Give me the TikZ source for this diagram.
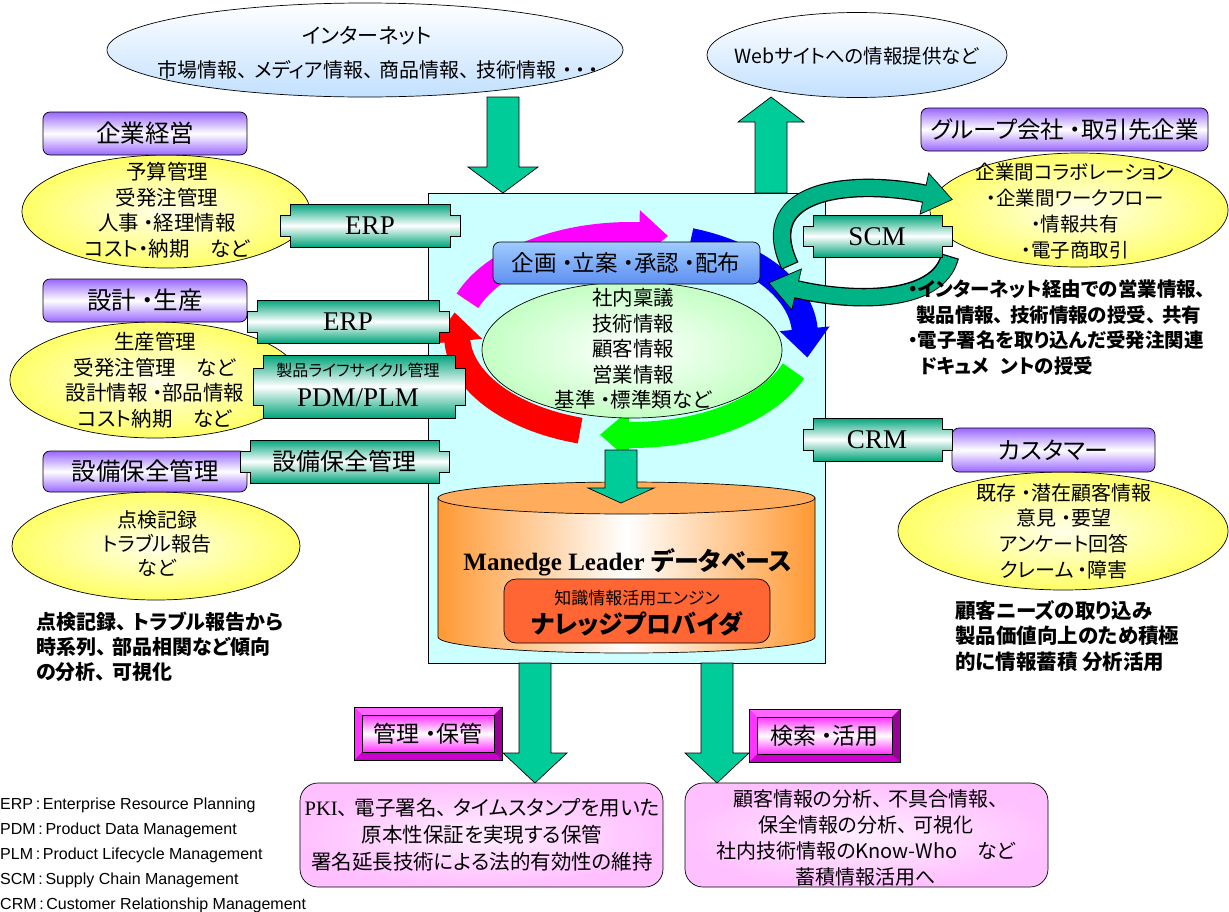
\documentclass[tikz,border=0pt]{standalone}
\usepackage{fontspec}
\setmainfont{Noto Sans CJK JP}[RawFeature=+palt]
\newfontfamily\tms{Liberation Serif}
\newfontfamily\arl{Liberation Sans}
\usetikzlibrary{decorations.markings}
\newcommand\fz[2]{\fontsize{#1pt}{#2pt}\selectfont}
\newcommand\tc{、\hspace{0.32em}}
\definecolor{cyanbg}{HTML}{CCFFFF}
\definecolor{agreen}{HTML}{00CC99}
\definecolor{tabg}{HTML}{00A47A}
\definecolor{purp}{HTML}{9966FF}
\definecolor{yout}{HTML}{FFFF66}
\definecolor{yin}{HTML}{FFFFEA}
\definecolor{gout}{HTML}{C4FFC4}
\definecolor{bluetop}{HTML}{9FCBFF}
\definecolor{bluebot}{HTML}{5E8FF0}
\definecolor{netblue}{HTML}{C2E0FF}
\definecolor{orng}{HTML}{FF9933}
\definecolor{orngtop}{HTML}{FFAD5C}
\definecolor{redor}{HTML}{FF6633}
\definecolor{pinkout}{HTML}{FFC0FF}
\definecolor{pinkin}{HTML}{FFEEFF}
\definecolor{magA}{HTML}{FF66FF}
\definecolor{magB}{HTML}{FF33FF}
\definecolor{magC}{HTML}{CC00CC}
\definecolor{magD}{HTML}{990099}
\definecolor{scmg}{HTML}{00B386}
\definecolor{cmag}{HTML}{FF00FF}
\definecolor{cblue}{HTML}{0000FF}
\definecolor{cgreen}{HTML}{00FF00}
\definecolor{cred}{HTML}{FF0000}
\tikzset{
  jtxt/.style={inner sep=0pt, align=center},
  outl/.style={draw=black, line width=0.7pt},
}
% block arrow: cx, ytop, ybase, ytip, half shaft, half head
\newcommand\bdown[6]{\filldraw[fill=agreen, outl] ({#1-#5},#2) -- ({#1+#5},#2) -- ({#1+#5},#3) -- ({#1+#6},#3) -- (#1,#4) -- ({#1-#6},#3) -- ({#1-#5},#3) -- cycle;}
% green tab: xL, yT, xR, yB, d
\newcommand\gtab[5]{\shadedraw[top color=tabg, bottom color=tabg, middle color=white, outl]
 (#1,#2) -- (#3,#2) -- (#3,{#2+#5}) -- ({#3+10},{#2+#5}) -- ({#3+10},{#4-#5}) -- (#3,{#4-#5}) -- (#3,#4) -- (#1,#4) -- (#1,{#4-#5}) -- ({#1-10},{#4-#5}) -- ({#1-10},{#2+#5}) -- (#1,{#2+#5}) -- cycle;}
% purple label
\newcommand\plabel[4]{\shadedraw[rounded corners=7pt, top color=purp, bottom color=purp, middle color=white, outl] (#1,#2) rectangle (#3,#4);}
% bevel box
\newcommand\bevbox[4]{%
 \fill[magC] (#1,#2) rectangle (#3,#4);
 \fill[magA] (#1,#2) -- (#3,#2) -- ({#3-8},{#2+8}) -- ({#1+8},{#2+8}) -- cycle;
 \fill[magB] (#1,#2) -- ({#1+8},{#2+8}) -- ({#1+8},{#4-8}) -- (#1,#4) -- cycle;
 \fill[magD] (#3,#2) -- (#3,#4) -- ({#3-8},{#4-8}) -- ({#3-8},{#2+8}) -- cycle;
 \shade[top color=magB, bottom color=magB, middle color=white] ({#1+8},{#2+8}) rectangle ({#3-8},{#4-8});
 \draw[black, line width=0.4pt] ({#1+8},{#2+8}) rectangle ({#3-8},{#4-8});
 \draw[outl] (#1,#2) rectangle (#3,#4);}
% cycle arc
\newcommand\cyc[3]{\draw[#1, line width=26pt, postaction=decorate, decoration={markings, mark=at position 0.999 with {\fill[#1] (-0.8pt,-25pt) -- (28pt,0pt) -- (-0.8pt,25pt) -- cycle;}}] ({631+174*cos(#2)},{335+100*sin(#2)}) arc[start angle=#2, end angle=#3, x radius=174, y radius=100];}
% scm arrow
\newcommand\scmarrow[1]{%
 \draw[black, line width=18.5pt, postaction=decorate, decoration={markings, mark=at position 0.999 with {\filldraw[fill=scmg, draw=black, line width=0.7pt] (-1.5pt,-21pt) -- (27pt,0pt) -- (-1.5pt,21pt) -- cycle;}}] #1;
 \draw[scmg, line width=16pt, shorten <=1.2pt] #1;}
\newcommand\yell[3]{\shadedraw[inner color=yin, outer color=yout, outl] (#1) ellipse [x radius=#2, y radius=#3];}
\begin{document}
\begin{tikzpicture}[x=1pt,y=-1pt]
\useasboundingbox (0,0) rectangle (1229,911);
% top ellipses
\shadedraw[top color=white, bottom color=netblue, outl] (365,50) ellipse [x radius=258, y radius=47];
\node[jtxt, font=\fz{21}{26}] (net) at (367,36) {インターネット};
\node[jtxt, font=\fz{20}{24}] (netsub) at (378,70) {市場情報\tc メディア情報\tc 商品情報\tc 技術情報\hspace{0.3em}・\hspace{0.15em}・\hspace{0.15em}・};
\shadedraw[top color=white, bottom color=netblue, outl] (857,55) ellipse [x radius=150, y radius=42.5];
\node[jtxt, font=\fz{19.5}{24}] (web) at (857,56) {Webサイトへの情報提供など};
% central box
\draw[fill=cyanbg, line width=0.8pt] (428,193) rectangle (825,663);
\bdown{503}{97}{167}{193}{16}{35}
\bdown{771}{193}{122}{97}{16}{33}
% cycle
\cyc{cmag}{200}{273}
\cyc{cblue}{290}{357}
\cyc{cgreen}{21}{91}
\cyc{cred}{107}{177}
\shadedraw[inner color=white, outer color=gout, outl] (632,350) ellipse [x radius=150, y radius=68];
\node[jtxt, font=\fz{20.5}{25.5}] (kind) at (633,349) {社内稟議\\技術情報\\顧客情報\\営業情報\\基準 ・標準類など};
\shadedraw[rounded corners=7pt, top color=bluetop, middle color=white, bottom color=bluebot, outl] (493,242) rectangle (760,284);
\node[jtxt, font=\fz{22.5}{26}] (plan) at (626,263) {企画 ・立案 ・承認 ・配布};
% database
\shadedraw[left color=orng, right color=orng, middle color=white, outl] (438,498) -- (438,637) arc[start angle=180, end angle=0, x radius=188.5, y radius=16] -- (815,498) -- cycle;
\draw[fill=orngtop, outl] (626.5,498) ellipse [x radius=188.5, y radius=16];
\bdown{621}{450}{488}{503}{16}{33}
\node[jtxt, font=\fz{25}{30}] (dbname) at (628,562) {{\tms\bfseries Manedge Leader }{\bfseries データベース}};
\shadedraw[rounded corners=12pt, top color=redor, middle color=white, bottom color=redor, outl] (504,579) rectangle (770,643);
\node[jtxt, font=\fz{17}{20}] (engine) at (637,598) {知識情報活用エンジン};
\node[jtxt, font=\bfseries\fz{25}{28}] (kp) at (637,624) {ナレッジプロバイダ};
% bottom
\bdown{535}{663}{753}{783}{16}{32}
\bdown{717}{663}{753}{783}{16}{32}
\bevbox{354}{707}{502}{760}
\node[jtxt, font=\fz{23}{26}] (kanri) at (428,733.5) {管理 ・保管};
\bevbox{749}{709}{900}{762}
\node[jtxt, font=\fz{23}{26}] (kensaku) at (824.5,735.5) {検索 ・活用};
\shadedraw[rounded corners=18pt, inner color=pinkin, outer color=pinkout, outl] (300,783) rectangle (663,887);
\node[jtxt, font=\fz{20.5}{27}] (pki) at (482,835) {{\tms PKI}\tc 電子署名\tc タイムスタンプを用いた\\原本性保証を実現する保管\\署名延長技術による法的有効性の維持};
\shadedraw[rounded corners=18pt, inner color=pinkin, outer color=pinkout, outl] (685,783) rectangle (1048,887);
\node[jtxt, font=\fz{20}{26}] (use) at (866,838) {顧客情報の分析\tc 不具合情報、\\保全情報の分析\tc 可視化\\社内技術情報のKnow-Who　など\\蓄積情報活用へ};
% left side
\yell{166,211.5}{144}{56.5}
\yell{155,380}{145}{58}
\yell{156,546}{144}{54}
\plabel{43}{112}{247}{155}
\node[jtxt, font=\fz{24.5}{28}] (keiei) at (145,133.5) {企業経営};
\plabel{43}{279}{247}{322}
\node[jtxt, font=\fz{24.5}{28}] (sekkei) at (145,300.5) {設計 ・生産};
\plabel{43}{451}{247}{492}
\node[jtxt, font=\fz{24.5}{28}] (setsubi) at (145,471.5) {設備保全管理};
\node[jtxt, font=\fz{20.5}{25.5}] (e1) at (167,210) {予算管理\\受発注管理\\人事 ・経理情報\\コスト・納期　など};
\node[jtxt, font=\fz{20.5}{25.5}] (e2) at (155,380) {生産管理\\受発注管理　など\\設計情報 ・部品情報\\コスト納期　など};
\node[jtxt, font=\fz{20}{24}] (e3) at (157,544) {点検記録\\トラブル報告\\など};
\node[jtxt, align=left, anchor=north west, font=\bfseries\fz{20}{25}] (ltxt) at (36,612) {点検記録\tc トラブル報告から\\時系列\tc 部品相関など傾向\\の分析\tc 可視化};
\gtab{290}{204}{450}{247}{11}
\node[jtxt, font=\tms\fz{27}{30}] (erp1) at (370,226) {ERP};
\gtab{257}{300}{439}{343}{11}
\node[jtxt, font=\tms\fz{27}{30}] (erp2) at (348,322) {ERP};
\gtab{263}{355}{455}{418}{13}
\node[jtxt, font=\fz{16}{19}] (plmj) at (358,370) {製品ライフサイクル管理};
\node[jtxt, font=\tms\fz{27}{30}] (pdm) at (358,398) {PDM/PLM};
\gtab{250}{440}{439}{483}{11}
\node[jtxt, font=\fz{24}{28}] (setsubi2) at (344,461.5) {設備保全管理};
% right side
\yell{1079,210}{149}{57}
\yell{1063,531}{165}{59}
\plabel{921}{108}{1208}{151}
\node[jtxt, font=\fz{23.5}{28}] (group) at (1064.5,129.5) {グループ会社 ・取引先企業};
\plabel{952}{428}{1155}{472}
\node[jtxt, font=\fz{24}{28}] (cust) at (1053.5,450) {カスタマー};
\node[jtxt, font=\fz{19.5}{25.8}] (e4) at (1075,211) {企業間コラボレーション\\・企業間ワークフロー\\・情報共有\\・電子商取引};
\node[jtxt, font=\fz{20}{25.7}] (e5) at (1064,531) {既存 ・潜在顧客情報\\意見 ・要望\\アンケート回答\\クレーム ・障害};
\scmarrow{(790,266) .. controls (752,185) and (860,180) .. (926,194)}
\scmarrow{(950,256) .. controls (938,305) and (850,302) .. (795,289)}
\gtab{813}{215}{942}{257}{11}
\node[jtxt, font=\tms\fz{27}{30}] (scm) at (877,237) {SCM};
\gtab{813}{418}{942}{461}{11}
\node[jtxt, font=\tms\fz{27}{30}] (crm) at (877,440) {CRM};
\node[jtxt, align=left, anchor=north west, font=\bfseries\fz{19.5}{25.5}] (scmtxt) at (908,280) {・インターネット経由での営業情報、\\\hspace{0.4em}製品情報\tc 技術情報の授受\tc 共有\\・電子署名を取り込んだ受発注関連\\\hspace{0.6em}ドキュメ\hspace{0.6em}ントの授受};
\node[jtxt, align=left, anchor=north west, font=\bfseries\fz{20.5}{25.5}] (crmtxt) at (955,600) {顧客ニーズの取り込み\\製品価値向上のため積極\\的に情報蓄積 分析活用};
% legend
\node[jtxt, align=left, anchor=north west, font=\arl\fz{16}{24.8}] (legend) at (0,798) {ERP\,:\,Enterprise Resource Planning\\PDM\,:\,Product Data Management\\PLM\,:\,Product Lifecycle Management\\SCM\,:\,Supply Chain Management\\CRM\,:\,Customer Relationship Management};
\end{tikzpicture}
\end{document}
